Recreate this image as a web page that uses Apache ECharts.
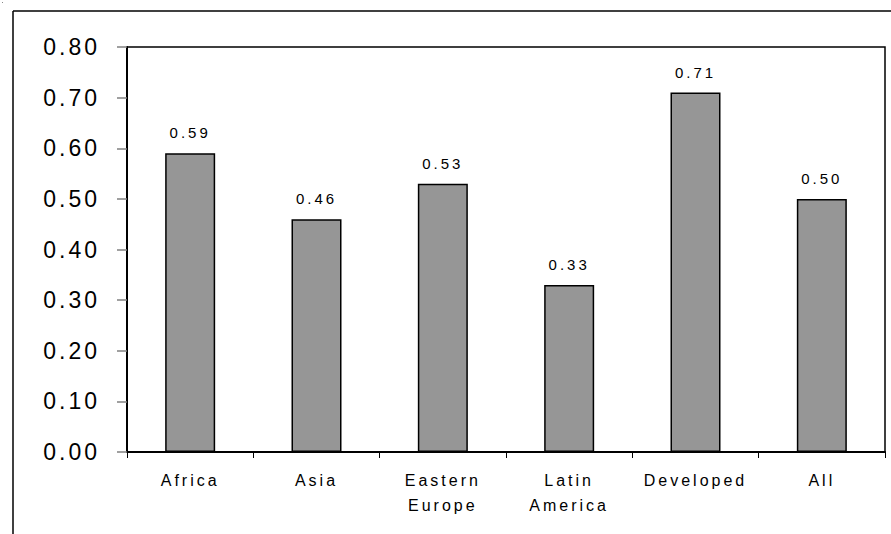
<!DOCTYPE html>
<html>
<head>
<meta charset="utf-8">
<script src="https://cdn.jsdelivr.net/npm/echarts@6/dist/echarts.min.js"></script>
<style>
  html, body { margin: 0; padding: 0; background: #fff; }
  #chart { width: 891px; height: 534px; }
  /* spaced-out lettering used throughout the chart */
  #chart text { letter-spacing: 3px; }
</style>
</head>
<body>
<div id="chart"></div>
<script>
// Regions and their values
const categories = ['Africa', 'Asia', 'Eastern\nEurope', 'Latin\nAmerica', 'Developed', 'All'];
const values = [0.59, 0.46, 0.53, 0.33, 0.71, 0.50];
const yTicks = { min: 0, max: 0.8, interval: 0.1 };

const chart = echarts.init(document.getElementById('chart'), null, { renderer: 'svg' });

const FONT = '"Liberation Sans", Arial, sans-serif';

chart.setOption({
  animation: false,
  backgroundColor: '#fff',
  grid: {
    left: 127, right: 6, top: 47, bottom: 82,
    show: true, borderColor: '#000', borderWidth: 1.5, backgroundColor: 'transparent'
  },
  graphic: [
    // outer frame: top and left edges
    { type: 'line', shape: { x1: 13, y1: 11, x2: 891, y2: 11 }, style: { stroke: '#000', lineWidth: 1.5 } },
    { type: 'line', shape: { x1: 13, y1: 11, x2: 13, y2: 534 }, style: { stroke: '#000', lineWidth: 1.5 } },
    { type: 'rect', shape: { x: 2, y: 2, width: 1, height: 1 }, style: { fill: '#888' } }
  ],
  xAxis: {
    type: 'category',
    data: categories,
    boundaryGap: true,
    axisLine: { show: true, lineStyle: { color: '#000', width: 2 } },
    axisTick: { show: true, length: 6, lineStyle: { color: '#000', width: 1 } },
    axisLabel: {
      color: '#000', fontFamily: FONT, fontSize: 16, lineHeight: 25,
      margin: 16, interval: 0
    },
    splitLine: { show: false }
  },
  yAxis: {
    type: 'value',
    min: yTicks.min, max: yTicks.max, interval: yTicks.interval,
    axisLine: { show: true, lineStyle: { color: '#000', width: 2 } },
    axisTick: { show: true, length: 10, lineStyle: { color: '#808080', width: 1.5 } },
    axisLabel: {
      color: '#000', fontFamily: FONT, fontSize: 23, margin: 27,
      formatter: v => v.toFixed(2)
    },
    splitLine: { show: false }
  },
  series: [{
    type: 'bar',
    data: values,
    barWidth: 50,
    itemStyle: { color: '#969696', borderColor: '#000', borderWidth: 1.5 },
    label: {
      show: true, position: 'top', distance: 13,
      color: '#000', fontFamily: FONT, fontSize: 15,
      formatter: p => p.value.toFixed(2)
    }
  }]
});
</script>
</body>
</html>
